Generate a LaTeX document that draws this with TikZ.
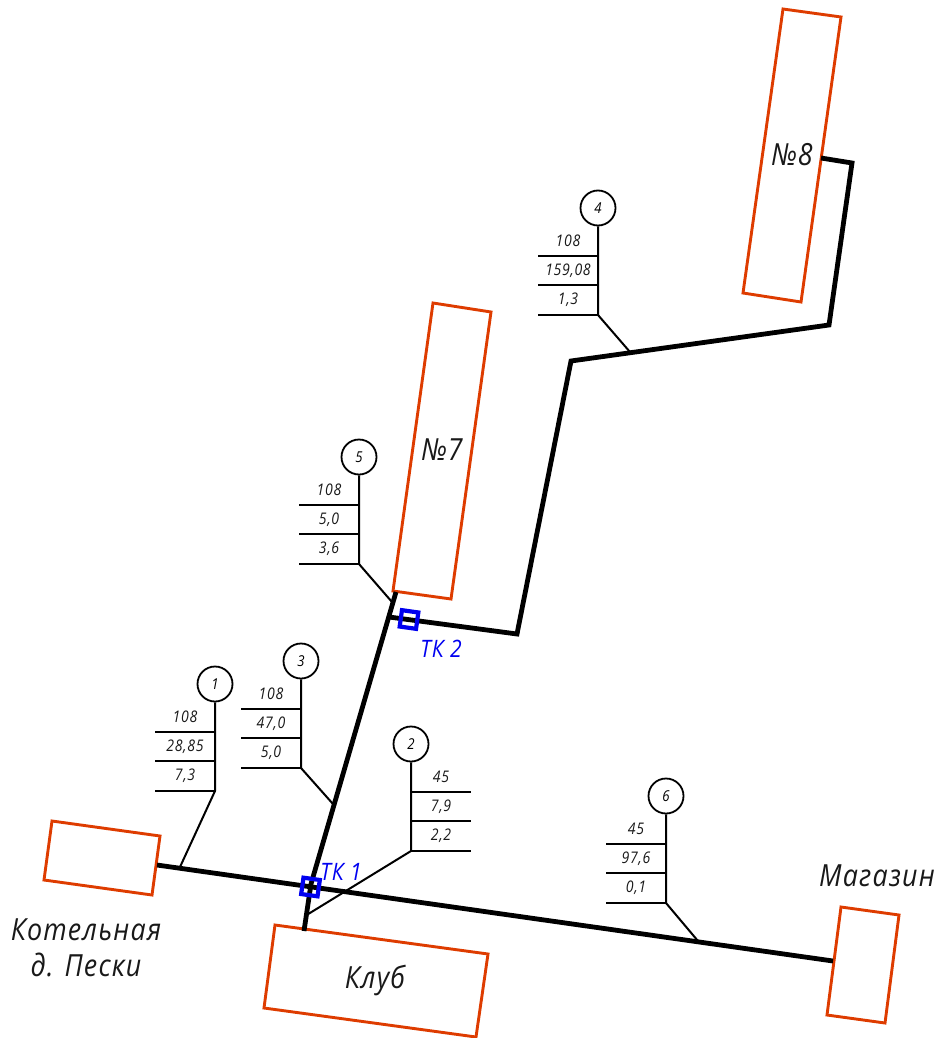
\documentclass[tikz,border=0pt]{standalone}
\usepackage{fontspec}
\setmainfont{Open Sans}[ItalicFont=* Italic,LetterSpace=4,FakeStretch=0.88]
\definecolor{bldg}{HTML}{DE3C00}
\definecolor{tk}{HTML}{0000F0}
\tikzset{
  pipe/.style={line width=4.8pt,line join=miter,black},
  thin/.style={line width=2pt,black},
  bldgbox/.style={line width=2.9pt,bldg,line join=miter},
  bubble/.style={circle,draw,line width=1.8pt,minimum size=35pt,inner sep=0pt,font=\fontsize{15}{15}\selectfont\itshape},
  small/.style={inner sep=0pt,font=\fontsize{16}{16}\selectfont\itshape,text=black!90},
  big/.style={inner sep=0pt,font=\fontsize{30.5}{30.5}\selectfont\itshape,text=black!90,align=center},
  tkbox/.style={draw=tk,line width=4.2pt,minimum size=16.5pt,inner sep=0pt,rotate=-8},
  tklabel/.style={inner sep=0pt,text=tk,font=\fontsize{24}{24}\selectfont\itshape},
}
% id, cx, cy, far x, end x, end y, three texts
\newcommand{\callout}[9]{
  \node[bubble] (c#1) at (#2,#3) {#1};
  \coordinate (p#1a) at (#2,#3+47.5);
  \coordinate (p#1b) at (#2,#3+77);
  \coordinate (p#1c) at (#2,#3+107);
  \coordinate (q#1a) at (#4,#3+47.5);
  \coordinate (q#1b) at (#4,#3+77);
  \coordinate (q#1c) at (#4,#3+107);
  \coordinate (e#1) at (#5,#6);
  \draw[thin] (c#1) -- (p#1c) -- (e#1);
  \draw[thin] (p#1a) -- (q#1a);
  \draw[thin] (p#1b) -- (q#1b);
  \draw[thin] (p#1c) -- (q#1c);
  \node[small] (t#1a) at ($(p#1a)!0.5!(q#1a)+(0,-14.5)$) {#7};
  \node[small] (t#1b) at ($(p#1a)!0.5!(q#1a)+(0,15)$) {#8};
  \node[small] (t#1c) at ($(p#1a)!0.5!(q#1a)+(0,44)$) {#9};
}
\usetikzlibrary{calc}
\begin{document}
\begin{tikzpicture}[x=1pt,y=-1pt]
\useasboundingbox (0,0) rectangle (938,1038);
% buildings
\draw[bldgbox] (52,821) -- (160,836) -- (152,895) -- (44,880) -- cycle;
\draw[bldgbox] (275,925) -- (488,954) -- (476,1037) -- (264,1008) -- cycle;
\draw[bldgbox] (841,907) -- (899,915) -- (885,1023) -- (827,1015) -- cycle;
\draw[bldgbox] (433,303) -- (491,312) -- (451,599) -- (393,591) -- cycle;
\draw[bldgbox] (783,9) -- (841,17) -- (801,302) -- (743,293) -- cycle;
% pipes
\coordinate (m1) at (157,865);
\coordinate (m2) at (833,961);
\coordinate (v1) at (396,592);
\coordinate (vk) at (311,884);
\coordinate (v2) at (304,931);
\coordinate (b1) at (389,617);
\coordinate (b2) at (517,634);
\coordinate (b3) at (571,361);
\coordinate (b4) at (829,325);
\coordinate (b5) at (852,163);
\coordinate (b6) at (821,158);
\draw[pipe] (m1) -- (m2);
\draw[pipe] (v1) -- (vk) -- (v2);
\draw[pipe] (b1) -- (b2) -- (b3) -- (b4) -- (b5) -- (b6);
% callouts
\callout{1}{215}{684}{155}{180}{867}{108}{28,85}{7,3}
\callout{2}{411}{744}{471}{305}{916}{45}{7,9}{2,2}
\callout{3}{301}{661}{241}{333}{804}{108}{47,0}{5,0}
\callout{4}{598}{208}{538}{630}{352}{108}{159,08}{1,3}
\callout{5}{359}{457}{299}{392}{602}{108}{5,0}{3,6}
\callout{6}{666}{796}{606}{698}{941}{45}{97,6}{0,1}
% chambers
\node[tkbox] (tk1) at (310.5,887) {};
\node[tkbox] (tk2) at (409,619.5) {};
\node[tklabel] (tk1l) at (341,872) {ТК 1};
\node[tklabel] (tk2l) at (441,649) {ТК 2};
% labels
\node[big] (kot) at (86,948) {Котельная\\[5pt]д. Пески};
\node[big] (klub) at (375,980) {Клуб};
\node[big] (mag) at (877,876) {Магазин};
\node[big] (n7) at (442,450) {№7};
\node[big] (n8) at (792,155) {№8};
\end{tikzpicture}
\end{document}
